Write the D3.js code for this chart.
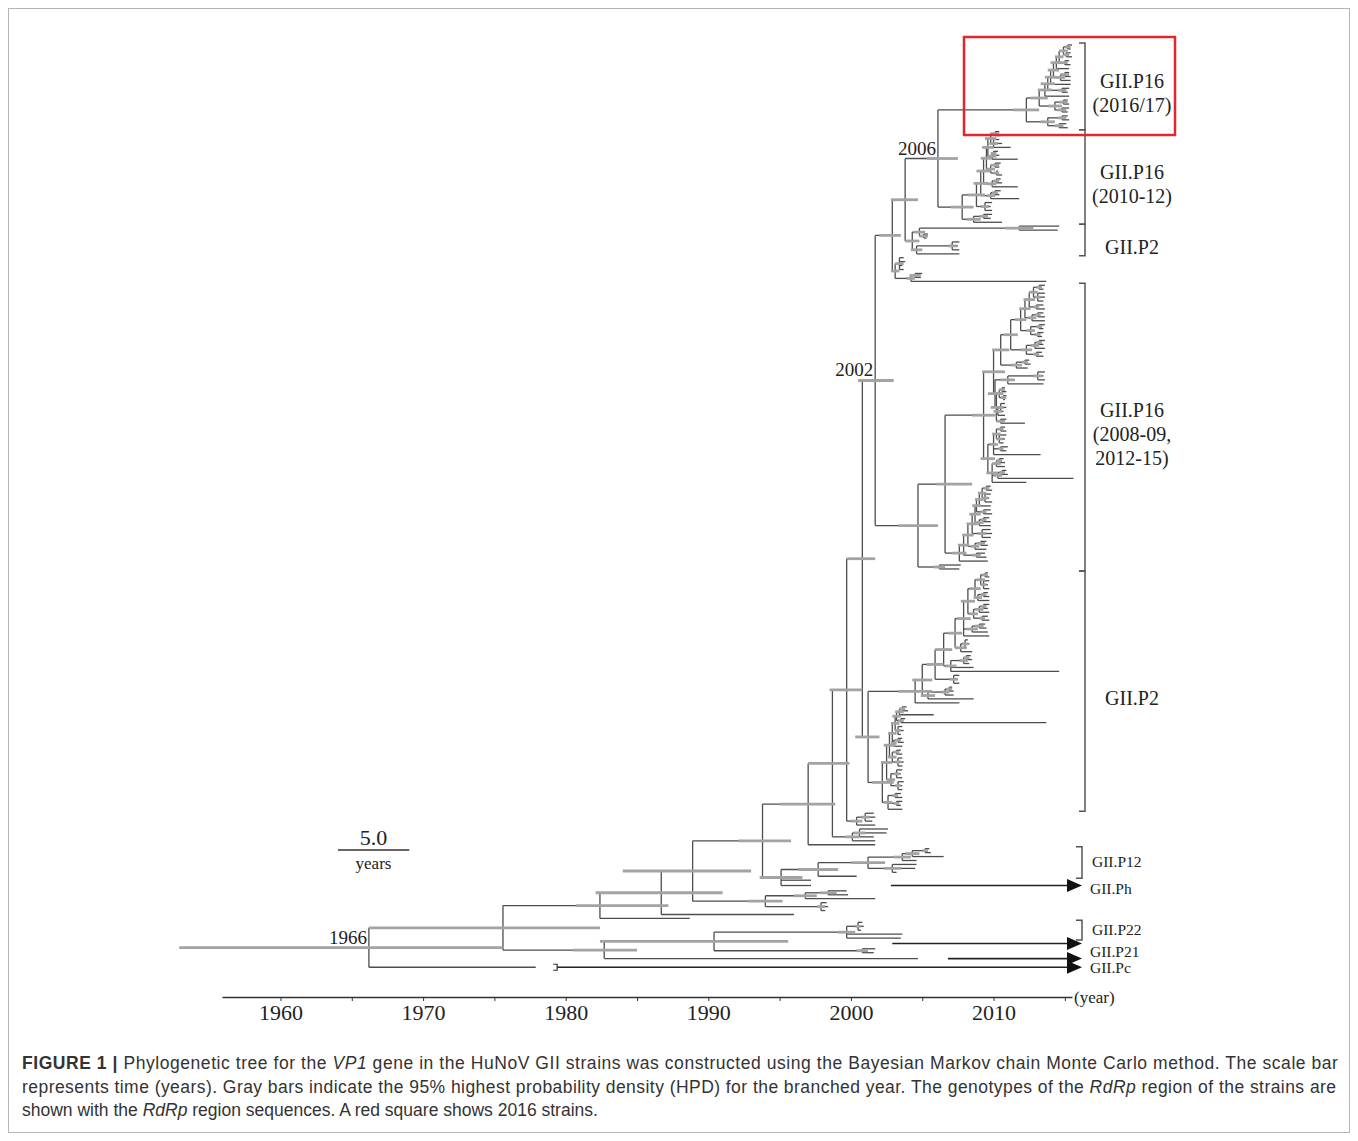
<!DOCTYPE html>
<html><head><meta charset="utf-8">
<script src="https://cdn.jsdelivr.net/npm/d3@7"></script>
<style>body{margin:0;background:#fff}</style>
</head><body>
<script>
// ---------------- DATA ----------------
// Tree written as compact Newick: tip = sampling year, internal node ")year~hpdHalf" or ")year~lo/hi",
// "T k" = collapsed clade k, "@k" = bracket k, "!k" = node label k.
const cA1 = "((2015.5,2015.4)2015.2~0.2,(2015.4,2015.5)2015.1~0.2)2014.9~0.3";
const cA2 = `(((${cA1},(2015.3,2015.4)2015.0~0.2)2014.6~0.3,2015.3)2014.4~0.4,((2015.3,2015.4)2015.0~0.3,2015.4)2014.7~0.3)2014.2~0.4`;
const cA3 = `(((${cA2},2015.4)2014.0~0.4,(2015.3,2015.2)2014.8~0.3)2013.8~0.5,2015.3)2013.6~0.5`;
const cladeA = `((${cA3},((2015.2,2015.3)2014.9~0.3,(2015.3,2015.2)2014.8~0.3)2014.3~0.5)2013.2~0.6,((2015.2,2015.3)2014.8~0.3,(2015.1,2015.2)2014.6~0.3)2013.8~0.5)2012.3~0.9@0`;

const cB1 = "((2010.4,2010.5)2010.1~0.3,(2010.4,2010.6,2011.2)2010.0~0.3)2009.8~0.4";
const cB2 = `((${cB1},((2010.3,2010.4)2010.0~0.2,2011.7)2009.9~0.3)2009.6~0.4,((2010.5,2010.4)2010.1~0.3,(2010.3,2010.6)2010.2~0.2)2009.8~0.3)2009.5~0.4`;
const cB3 = `(((${cB2},((2010.5,2010.6)2010.2~0.2,2011.7)2009.9~0.3)2009.3~0.5,((2010.5,2010.4)2010.1~0.2,2011.8)2009.8~0.3)2009.1~0.5,(2009.9,2009.8,2009.9)2009.4~0.3)2008.8~0.6`;
const cladeB = `(${cB3},((2009.9,2009.8)2009.3~0.3,2010.6)2008.6~0.5)2007.8~0.8@1`;

const cladeC = "(((2014.6,2014.5)2011.8~1.0,(2005.4,2005.3)2005.1~0.3)2004.8~0.4,((2007.6,2007.5,2007.6)2007.1~0.3,2007.6)2004.6~0.4)2004.3~0.5@2";
const cladeD = "((2003.7,2003.8,2003.6,2003.7)2003.4~0.3,((2005.0,2004.9)2004.5~0.4,2013.7)2004.2~0.3)2003.1~0.3";

const n2006 = `(${cladeA},${cladeB})2006.1~2005.3/2007.5!0`;
const n905 = `(${n2006},${cladeC})2003.8~2002.8/2004.7`;
const n892 = `(${n905},${cladeD})2002.9~2002.0/2003.5`;

const cE1 = "(((2013.6,2013.5)2013.2~0.2,(2013.6,2013.6,2013.5)2013.1~0.2)2012.8~0.3,(2013.5,2013.6)2013.0~0.2)2012.5~0.4";
const cE2 = `((${cE1},((2013.5,2013.6)2013.1~0.2,2013.6)2012.7~0.3)2012.2~0.4,((2013.6,2013.5)2013.2~0.2,(2013.5,2013.4)2013.1~0.2)2012.6~0.3)2011.9~0.4`;
const cE3 = `((${cE2},(((2013.6,2013.5)2013.2~0.2,2013.6)2012.9~0.3,(2013.4,2013.5)2013.0~0.2)2012.3~0.4)2011.2~0.5,((2012.5,2012.6)2012.2~0.2,2012.4)2011.6~0.4)2010.5~0.6`;
const cE4 = "(((2013.6,2013.5,2013.6)2013.1~0.3,2013.5)2011.0~0.5,(((2010.8,2010.9)2010.6~0.2,(2010.9,2010.8)2010.7~0.2)2010.4~0.3,((2010.8,2010.9,2010.7)2010.5~0.2,2010.8)2010.3~0.3,(2010.9,2012.2)2010.5~0.3)2010.2~0.4)2010.1~0.5";
const cE5 = `(${cE3},${cE4})2010.0~0.8`;
const cE6 = "((((2010.8,2010.9)2010.5~0.2,(2010.9,2010.8,2010.7)2010.4~0.2)2010.2~0.3,(2011.0,2010.9)2010.5~0.2,2013.3)2010.0~0.3,(((2010.7,2010.8)2010.4~0.2,2010.8)2010.2~0.3,((2010.9,2011.0)2010.6~0.2,2015.6)2010.3~0.3,2012.3)2009.9~0.4)2009.6~0.5";
const cE7 = `(${cE5},${cE6})2009.3~2008.5/2010.2`;
const cE8 = "((2009.8,2009.9)2009.5~0.2,(2009.8,2009.7,2009.9)2009.4~0.2)2009.2~0.3";
const cE9 = `((((${cE8},2009.8)2009.0~0.3,(2009.8,2009.9)2009.3~0.2)2008.8~0.3,((2009.7,2009.8)2009.3~0.2,2009.8)2009.0~0.3)2008.7~0.4,(2009.8,2009.9,2009.8)2009.2~0.3)2008.5~0.4`;
const cE10 = `(((${cE9},((2009.5,2009.6)2009.1~0.3,2009.5)2008.7~0.3)2008.2~0.4,(2009.4,2009.5)2008.8~0.3)2007.9~0.4,2009.6)2007.6~0.5`;
const cE11 = `(${cE7},${cE10})2006.6~2006.0/2008.5`;
const cladeE = `(${cE11},(2007.7,2007.6)2006.2~0.4)2004.7~2003.3/2006.1@3`;
const n2002 = `(${n892},${cladeE})2001.7~2000.5/2003.0!1`;

const cF1 = "((((2009.6,2009.7)2009.4~0.2,(2009.7,2009.6,2009.7)2009.3~0.2)2009.1~0.3,((2009.6,2009.7)2009.3~0.2,2009.7)2008.9~0.3)2008.7~0.4,(((2009.7,2009.6)2009.3~0.2,2009.7)2009.0~0.3,(2009.6,2009.7)2009.2~0.2)2008.6~0.3)2008.2~0.5";
const cF2 = `((${cF1},((2009.4,2009.5)2009.0~0.3,2009.6)2008.5~0.4,2009.7)2007.9~0.5,((2008.2,2008.3,2008.1)2008.0~0.2,2008.5)2007.7~0.4)2007.3~0.5`;
const cF3 = `(((${cF2},(((2008.4,2008.5)2008.1~0.2,2008.3)2007.9~0.3,2008.6,2014.6)2007.0~0.4)2006.5~0.6,(2007.6,2007.5,2007.6)2007.2~0.3)2005.9~0.6,(((2007.1,2007.2)2006.9~0.2,2007.2)2006.6~0.3,2008.6)2005.4~0.5)2005.0~0.7`;
const cF4 = `(${cF3},2007.6)2004.5~2003.3/2005.7`;
const cF5 = "(((2003.9,2004.0)2003.6~0.2,2005.8)2003.4~0.3,(2003.8,2013.7)2003.5~0.2)2003.2~0.3";
const cF6 = `(((${cF5},(2003.6,2003.7,2003.5)2003.3~0.2)2003.1~0.3,((2003.6,2003.7)2003.3~0.2,2003.6)2003.0~0.2)2002.9~0.3,((2003.5,2003.6)2003.2~0.2,(2003.6,2003.7,2003.6)2003.3~0.2)2002.9~0.3)2002.7~0.4`;
const cF7 = `((${cF6},((2003.6,2003.5,2003.6)2003.2~0.2,(2003.7,2003.6,2003.6)2003.3~0.2)2002.8~0.3)2002.5~0.4,((2003.5,2003.6)2003.1~0.2,(2003.6,2003.5)2003.2~0.2,2003.6)2002.6~0.3)2002.2~2001.5/2003.0`;
const n868 = `(${cF4},${cF7})2001.2~2000.3/2002.0@4`;

const x1 = `(${n2002},${n868})2000.8~1999.7/2001.7`;
const x0 = `(${x1},((2001.6,2001.7,2001.5)2001.0~0.3,2001.7)2000.4~0.4)1999.7~1998.5/2000.8`;
const n833 = `(${x0},((2002.6,2002.5,2001.6)2000.6~0.4,2001.7)2000.1~0.5)1998.7~1997.0/1999.9`;
const n808 = `(${n833},2001.7)1997.0~1995.0/1998.9`;
const cP12 = "((((((2005.5,2005.6)2005.2~0.2,2006.5)2004.3~0.5,2004.6)2003.6~0.6,(2004.6,2004.5,2003.2)2002.9~0.6)2001.2~1.2,2000.4)1997.7~1.4@5,1997.2,T0)1995.1~1.5";
const n763 = `(${n808},${cP12})1993.8~1992.1/1995.8`;
const cN766 = "(((1999.7,1999.8)1998.4~0.6,2001.7)1996.8~0.8,(1998.3,1998.4,1998.2)1997.9~0.3)1994.0~1.2";
const n693 = `(${n763},${cN766})1988.9~1984.0/1993.0`;
const n661 = `(${n693},1996.0)1986.7~1982.1/1991.0`;
const n600 = `(${n661},1988.7)1982.4~1980.7/1987.2`;
const cP22 = "((2000.8,2000.9,2000.7)2000.5~0.2,2003.6,2003.5)1999.7~0.6@6";
const n715 = `(${cP22},T1,(2001.7,2001.6)2000.8~0.4)1990.4~1982.4/1995.6`;
const n605 = `(${n715},T2)1982.7~1980.5/1985.0`;
const n503 = `(${n600},${n605})1975.6~1966.2/1982.4`;
const treeNewick = `(${n503},T3)1966.2~1952.9/1975.6!2`;

// collapsed clades (triangles)
const triNames = ["GII.Ph", "", "GII.P21", "GII.Pc"];
const triBranchEnd = [1997.2, null, 2004.7, 1977.9];
const triStart = [2002.8, 2002.9, 2006.8, 1979.4];
const triEnd = [2016.2, 2016.2, 2016.2, 2016.2];
const triCap = [false, false, false, true];

const bracketNames = [["GII.P16", "(2016/17)"], ["GII.P16", "(2010-12)"], ["GII.P2"],
  ["GII.P16", "(2008-09,", "2012-15)"], ["GII.P2"], ["GII.P12"], ["GII.P22"]];
const nodeLabels = ["2006", "2002", "1966"];

const tickYears = [1960, 1965, 1970, 1975, 1980, 1985, 1990, 1995, 2000, 2005, 2010, 2015];
const tickLabels = ["1960", "", "1970", "", "1980", "", "1990", "", "2000", "", "2010", ""];
const axisDomain = [1955.9, 2015.5];
const scaleBarYears = 5;

const captionLines = [
  [{t: "FIGURE 1 |", b: 1}, {t: " Phylogenetic tree for the "}, {t: "VP1", i: 1}, {t: " gene in the HuNoV GII strains was constructed using the Bayesian Markov chain Monte Carlo method. The scale bar"}],
  [{t: "represents time (years). Gray bars indicate the 95% highest probability density (HPD) for the branched year. The genotypes of the "}, {t: "RdRp", i: 1}, {t: " region of the strains are"}],
  [{t: "shown with the "}, {t: "RdRp", i: 1}, {t: " region sequences. A red square shows 2016 strains."}]
];

// ---------------- PARSER ----------------
function parseNewick(s) {
  let i = 0;
  function num() {
    const m = /^-?\d+(\.\d+)?/.exec(s.slice(i));
    i += m[0].length; return +m[0];
  }
  function node() {
    const n = {};
    if (s[i] === "(") {
      i++; n.children = [node()];
      while (s[i] === ",") { i++; n.children.push(node()); }
      i++; n.year = num();
    } else if (s[i] === "T") { i++; n.tri = num(); n.year = triEnd[n.tri]; }
    else n.year = num();
    if (s[i] === "~") {
      i++; const a = num();
      if (s[i] === "/") { i++; const b = num(); n.hpd = [a, b]; }
      else n.hpd = [n.year - a, n.year + a];
    }
    while (s[i] === "@" || s[i] === "!") {
      const c = s[i++]; const k = num();
      if (c === "@") n.bracket = k; else n.label = k;
    }
    return n;
  }
  return node();
}

// ---------------- LAYOUT ----------------
const W = 1358, H = 1141;
const serif = "'Liberation Serif','Times New Roman',serif";
const svg = d3.select("body").append("svg").attr("width", W).attr("height", H);
svg.append("rect").attr("width", W).attr("height", H).attr("fill", "#fff");
svg.append("rect").attr("x", 8.5).attr("y", 8.5).attr("width", 1341).attr("height", 1124)
  .attr("fill", "none").attr("stroke", "#b5b5b5").attr("stroke-width", 1);

const x = d3.scaleLinear().domain(axisDomain).range([222, 1072]);
const root = d3.hierarchy(parseNewick(treeNewick), d => d.children);
const triSlot = [1.7, 1.7, 2.0, 2.4];
const slotOf = l => l.data.tri !== undefined ? triSlot[l.data.tri] : 1;
const leaves = root.leaves();
const total = d3.sum(leaves, slotOf);
const y = d3.scaleLinear().domain([0, total]).range([43, 972]);
let cum = 0;
leaves.forEach(l => { const w = slotOf(l); l.py = y(cum + w / 2); cum += w; });
root.eachAfter(n => { if (n.children) n.py = (n.children[0].py + n.children[n.children.length - 1].py) / 2; });
root.each(n => { n.px = x(n.data.year); });

const gTree = svg.append("g");
const branchColor = "#4d4d4d";
// branches
root.descendants().filter(n => n.children).forEach(n => {
  const c0 = n.children[0], c1 = n.children[n.children.length - 1];
  gTree.append("line").attr("x1", n.px).attr("x2", n.px).attr("y1", c0.py).attr("y2", c1.py)
    .attr("stroke", branchColor).attr("stroke-width", 1.3);
  n.children.forEach(c => {
    let endYear = c.data.year;
    if (c.data.tri !== undefined) endYear = triBranchEnd[c.data.tri];
    if (endYear === null) return;
    gTree.append("line").attr("x1", n.px).attr("x2", x(endYear)).attr("y1", c.py).attr("y2", c.py)
      .attr("stroke", branchColor).attr("stroke-width", 1.3);
  });
});
// collapsed clades
const triLabelDy = [8, 0, -2, 6];
leaves.filter(l => l.data.tri !== undefined).forEach(l => {
  const k = l.data.tri, xs = x(triStart[k]), xe = x(triEnd[k]);
  gTree.append("line").attr("x1", xs).attr("x2", xe - 12).attr("y1", l.py).attr("y2", l.py)
    .attr("stroke", "#222").attr("stroke-width", 1.6);
  gTree.append("path").attr("d", `M${xe - 15},${l.py - 6.5}L${xe},${l.py}L${xe - 15},${l.py + 6.5}Z`).attr("fill", "#111");
  if (triCap[k]) gTree.append("path").attr("d", `M${xs - 4},${l.py - 3}L${xs},${l.py - 3}L${xs},${l.py + 3}L${xs - 4},${l.py + 3}`)
    .attr("fill", "none").attr("stroke", "#333").attr("stroke-width", 1.2);
  if (triNames[k]) svg.append("text").attr("x", xe + 8).attr("y", l.py + triLabelDy[k]).attr("font-family", serif)
    .attr("font-size", 15.5).attr("fill", "#222").text(triNames[k]);
});
// HPD bars
root.descendants().filter(n => n.data.hpd).forEach(n => {
  gTree.append("line").attr("x1", x(n.data.hpd[0])).attr("x2", x(n.data.hpd[1])).attr("y1", n.py).attr("y2", n.py)
    .attr("stroke", "#a3a3a3").attr("stroke-width", 2.8);
});
// node labels
root.descendants().filter(n => n.data.label !== undefined).forEach(n => {
  svg.append("text").attr("x", n.px - 2).attr("y", n.py - 4).attr("text-anchor", "end")
    .attr("font-family", serif).attr("font-size", 19).attr("fill", "#222").text(nodeLabels[n.data.label]);
});
// brackets
root.descendants().filter(n => n.data.bracket !== undefined).forEach(n => {
  const k = n.data.bracket;
  const [y0, y1] = d3.extent(n.leaves(), l => l.py);
  const small = k >= 5;
  const bx = small ? 1082 : 1085, t = 6;
  const top = y0 - 2, bot = y1 + 2;
  svg.append("path").attr("d", `M${bx - t},${top}L${bx},${top}L${bx},${bot}L${bx - t},${bot}`)
    .attr("fill", "none").attr("stroke", "#555").attr("stroke-width", 1.5);
  const mid = (top + bot) / 2;
  const lines = bracketNames[k];
  if (small) {
    svg.append("text").attr("x", bx + 10).attr("y", mid + 5).attr("font-family", serif)
      .attr("font-size", 15.5).attr("fill", "#222").text(lines[0]);
  } else {
    const c = mid + 7;
    lines.forEach((s, i) => svg.append("text").attr("x", 1132).attr("y", c + (i - (lines.length - 1) / 2) * 24 + 7)
      .attr("text-anchor", "middle").attr("font-family", serif).attr("font-size", 20).attr("fill", "#222").text(s));
  }
});

// red square around the 2016/17 strains
svg.append("rect").attr("x", 964).attr("y", 37).attr("width", 211).attr("height", 98)
  .attr("fill", "none").attr("stroke", "#e2262b").attr("stroke-width", 2.5);

// scale bar
const sbx = 338, sby = 850;
svg.append("line").attr("x1", sbx).attr("x2", sbx + x(axisDomain[0] + scaleBarYears) - x(axisDomain[0]))
  .attr("y1", sby).attr("y2", sby).attr("stroke", "#333").attr("stroke-width", 1.4);
svg.append("text").attr("x", sbx + 35.5).attr("y", sby - 5).attr("text-anchor", "middle").attr("font-family", serif)
  .attr("font-size", 22).attr("fill", "#222").text(scaleBarYears.toFixed(1));
svg.append("text").attr("x", sbx + 35.5).attr("y", sby + 19).attr("text-anchor", "middle").attr("font-family", serif)
  .attr("font-size", 17).attr("fill", "#222").text("years");

// axis
const ax = svg.append("g").attr("transform", "translate(0,997)")
  .call(d3.axisBottom(x).tickValues(tickYears).tickFormat((d, i) => tickLabels[i]).tickSize(4).tickSizeOuter(0));
ax.select(".domain").attr("stroke", "#333").attr("stroke-width", 1.4);
ax.selectAll(".tick line").attr("stroke", "#333");
ax.selectAll("text").attr("font-family", serif).attr("font-size", 22).attr("fill", "#222");
svg.append("text").attr("x", 1074).attr("y", 1003).attr("font-family", serif).attr("font-size", 17).attr("fill", "#222").text("(year)");

// caption
const capTargets = [1316, 1314, null];
captionLines.forEach((parts, li) => {
  const t = svg.append("text").attr("x", 22).attr("y", 1069 + li * 23.5)
    .attr("font-family", "'Liberation Sans',Arial,sans-serif").attr("font-size", 17.5).attr("fill", "#333");
  parts.forEach(p => t.append("tspan").attr("font-weight", p.b ? "bold" : null).attr("font-style", p.i ? "italic" : null).text(p.t));
  const w = t.node().getComputedTextLength();
  const n = parts.map(p => p.t).join("").length;
  if (capTargets[li]) t.attr("letter-spacing", ((capTargets[li] - w) / (n - 1)).toFixed(3));
});
</script>
</body></html>
